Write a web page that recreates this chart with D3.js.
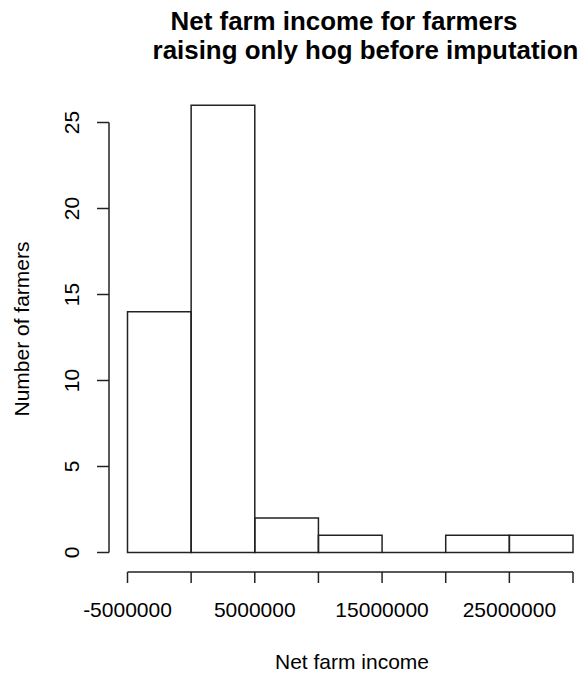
<!DOCTYPE html>
<html>
<head>
<meta charset="utf-8">
<script src="https://d3js.org/d3.v7.min.js"></script>
<style>
  body { margin: 0; background: #fff; }
  text { font-family: "Liberation Sans", Arial, sans-serif; fill: #000; }
</style>
</head>
<body>
<div id="chart"></div>
<script>
// histogram bins (break points) and counts
var breaks = [-5000000, 0, 5000000, 10000000, 15000000, 20000000, 25000000, 30000000];
var counts = [14, 26, 2, 1, 0, 1, 1];
var xTicks = [-5000000, 0, 5000000, 10000000, 15000000, 20000000, 25000000, 30000000];
var xTickLabels = ["-5000000", "", "5000000", "", "15000000", "", "25000000", ""];
var yTicks = [0, 5, 10, 15, 20, 25];

var W = 582, H = 677;
var svg = d3.select("#chart").append("svg").attr("width", W).attr("height", H);

var x = d3.scaleLinear().domain([-5000000, 30000000]).range([127.5, 573]);
var y = d3.scaleLinear().domain([0, 25]).range([552.5, 122.5]);

var lineCol = "#222";

// bars drawn as closed paths so an empty bin still shows its base line
var bins = counts.map(function(c, i) { return {x0: breaks[i], x1: breaks[i + 1], n: c}; });
svg.selectAll("path.bar").data(bins).enter().append("path")
  .attr("class", "bar")
  .attr("d", function(d) {
    var a = x(d.x0), b = x(d.x1), t = y(d.n), z = y(0);
    return "M" + a + "," + z + "L" + a + "," + t + "L" + b + "," + t + "L" + b + "," + z + "Z";
  })
  .attr("fill", "none")
  .attr("stroke", lineCol)
  .attr("stroke-width", 1.5);

// x axis
var xa = svg.append("g").attr("transform", "translate(0,572)");
xa.append("line").attr("x1", x(xTicks[0])).attr("x2", x(xTicks[xTicks.length - 1]))
  .attr("stroke", lineCol).attr("stroke-width", 1.5);
xa.selectAll("line.t").data(xTicks).enter().append("line").attr("class", "t")
  .attr("x1", function(d) { return x(d); }).attr("x2", function(d) { return x(d); })
  .attr("y1", 0).attr("y2", 11).attr("stroke", lineCol).attr("stroke-width", 1.5);
xa.selectAll("text").data(xTicks).enter().append("text")
  .attr("x", function(d) { return x(d); }).attr("y", 45)
  .attr("text-anchor", "middle").style("font-size", "21px")
  .text(function(d, i) { return xTickLabels[i]; });

// y axis
var ya = svg.append("g").attr("transform", "translate(109,0)");
ya.append("line").attr("y1", y(0)).attr("y2", y(25))
  .attr("stroke", lineCol).attr("stroke-width", 1.5);
ya.selectAll("line.t").data(yTicks).enter().append("line").attr("class", "t")
  .attr("y1", function(d) { return y(d); }).attr("y2", function(d) { return y(d); })
  .attr("x1", 0).attr("x2", -12).attr("stroke", lineCol).attr("stroke-width", 1.5);
ya.selectAll("text").data(yTicks).enter().append("text")
  .attr("transform", function(d) { return "translate(-30," + y(d) + ") rotate(-90)"; })
  .attr("text-anchor", "middle").style("font-size", "21px")
  .text(function(d) { return d; });

// titles
svg.append("text").attr("x", 344).attr("y", 30).attr("text-anchor", "middle")
  .style("font-size", "25.9px").style("font-weight", "bold")
  .text("Net farm income for farmers");
svg.append("text").attr("x", 365.5).attr("y", 59).attr("text-anchor", "middle")
  .style("font-size", "25.9px").style("font-weight", "bold")
  .text("raising only hog before imputation");

svg.append("text").attr("x", 352).attr("y", 669).attr("text-anchor", "middle")
  .style("font-size", "21px").text("Net farm income");
svg.append("text").attr("transform", "translate(29,329) rotate(-90)")
  .attr("text-anchor", "middle").style("font-size", "21px").text("Number of farmers");
</script>
</body>
</html>
